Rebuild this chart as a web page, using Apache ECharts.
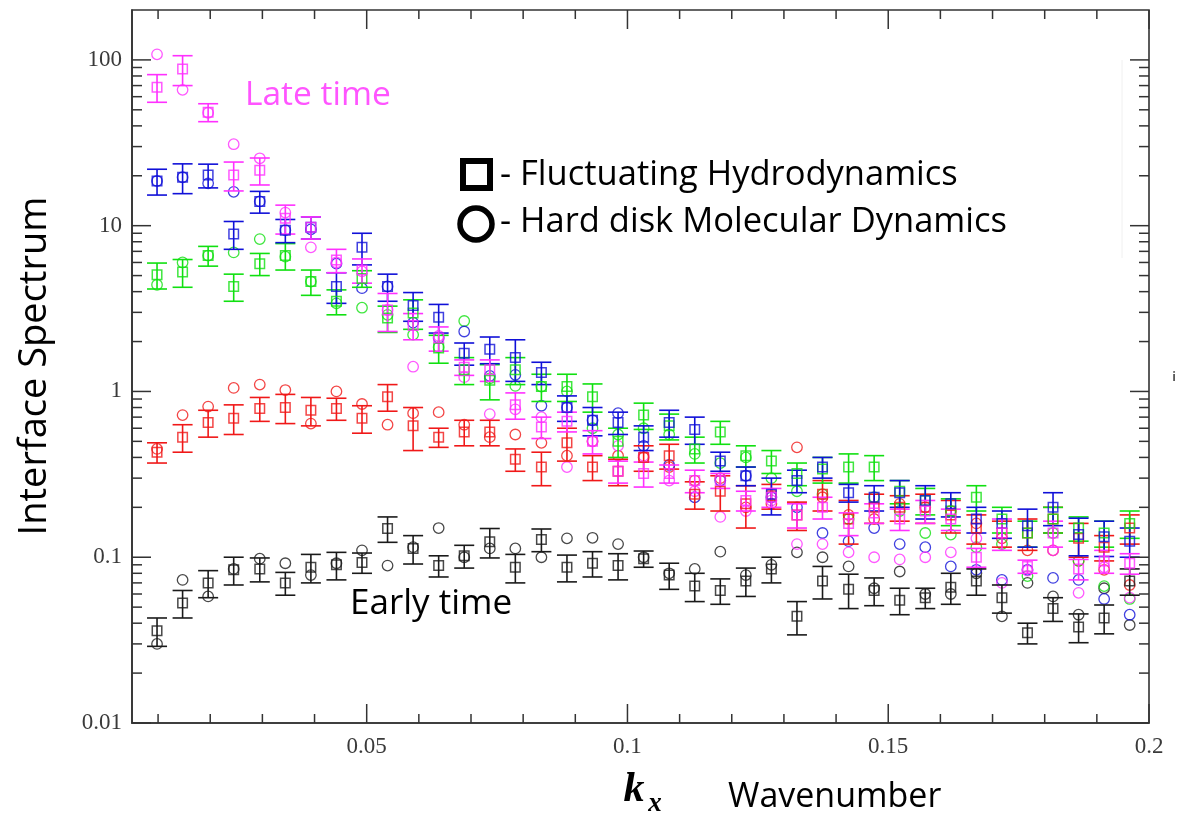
<!DOCTYPE html>
<html>
<head>
<meta charset="utf-8">
<script src="https://cdn.jsdelivr.net/npm/echarts@6/dist/echarts.min.js"></script>
<style>
  html, body { margin: 0; padding: 0; background: #fff; }
  #chart { width: 1186px; height: 814px; }
</style>
</head>
<body>
<div id="chart"></div>
<script>
// Wavenumbers k_x of the sampled interface modes
const kx = [0.0098, 0.0147, 0.0196, 0.0245, 0.0295, 0.0344, 0.0393, 0.0442, 0.0491, 0.0540,
            0.0589, 0.0638, 0.0687, 0.0736, 0.0785, 0.0835, 0.0884, 0.0933, 0.0982, 0.1031,
            0.1080, 0.1129, 0.1178, 0.1227, 0.1276, 0.1325, 0.1374, 0.1424, 0.1473, 0.1522,
            0.1571, 0.1620, 0.1669, 0.1718, 0.1767, 0.1816, 0.1865, 0.1914, 0.1963];

// Early time (black): fluctuating hydrodynamics (value, error) and hard-disk MD
const blackFH = [0.036, 0.053, 0.070, 0.084, 0.085, 0.070, 0.087, 0.090, 0.093, 0.149,
                 0.113, 0.089, 0.102, 0.124, 0.087, 0.128, 0.087, 0.092, 0.089, 0.098,
                 0.078, 0.067, 0.063, 0.072, 0.085, 0.044, 0.072, 0.064, 0.063, 0.055,
                 0.057, 0.066, 0.072, 0.057, 0.035, 0.049, 0.038, 0.043, 0.072];
const blackErr = [0.007, 0.010, 0.013, 0.016, 0.014, 0.011, 0.017, 0.017, 0.013, 0.026,
                  0.022, 0.013, 0.016, 0.025, 0.017, 0.020, 0.016, 0.016, 0.016, 0.011,
                  0.014, 0.013, 0.011, 0.014, 0.015, 0.010, 0.016, 0.015, 0.012, 0.010,
                  0.008, 0.014, 0.013, 0.011, 0.005, 0.008, 0.0075, 0.0085, 0.013];
const blackMD = [0.030, 0.073, 0.058, 0.085, 0.098, 0.092, 0.078, 0.092, 0.110, 0.089,
                 0.115, 0.150, 0.100, 0.113, 0.113, 0.100, 0.130, 0.131, 0.120, 0.100,
                 0.080, 0.085, 0.108, 0.078, 0.090, 0.107, 0.100, 0.088, 0.065, 0.082,
                 0.060, 0.060, 0.080, 0.044, 0.070, 0.058, 0.045, 0.065, 0.039];

// Red
const redFH = [0.43, 0.53, 0.65, 0.69, 0.79, 0.80, 0.77, 0.79, 0.69, 0.93,
               0.62, 0.53, 0.57, 0.57, 0.39, 0.35, 0.49, 0.35, 0.33, 0.40,
               0.41, 0.24, 0.25, 0.21, 0.235, 0.18, 0.24, 0.17, 0.20, 0.20,
               0.20, 0.18, 0.15, 0.14, 0.14, 0.17, 0.13, 0.115, 0.15];
const redErr = [0.06, 0.10, 0.12, 0.14, 0.13, 0.16, 0.15, 0.12, 0.13, 0.17,
                0.18, 0.07, 0.10, 0.10, 0.06, 0.08, 0.11, 0.06, 0.06, 0.07,
                0.07, 0.045, 0.06, 0.06, 0.04, 0.035, 0.05, 0.05, 0.04, 0.035,
                0.04, 0.04, 0.03, 0.025, 0.03, 0.03, 0.03, 0.02, 0.03];
const redMD = [0.45, 0.72, 0.81, 1.05, 1.10, 1.02, 0.64, 1.00, 0.84, 0.63,
               0.74, 0.75, 0.63, 0.53, 0.55, 0.49, 0.41, 0.50, 0.41, 0.40,
               0.35, 0.29, 0.30, 0.20, 0.21, 0.46, 0.23, 0.18, 0.17, 0.21,
               0.20, 0.19, 0.16, 0.13, 0.11, 0.11, 0.095, 0.084, 0.068];

// Green
const greenFH = [5.05, 5.25, 6.6, 4.3, 5.9, 6.6, 4.6, 3.5, 4.8, 2.77,
                 2.97, 1.83, 1.35, 1.17, 1.35, 1.07, 1.07, 0.93, 0.50, 0.72,
                 0.62, 0.45, 0.57, 0.41, 0.38, 0.32, 0.34, 0.35, 0.35, 0.25,
                 0.22, 0.19, 0.23, 0.17, 0.14, 0.17, 0.15, 0.14, 0.16];
const greenErr = [0.9, 1.0, 0.9, 0.8, 0.9, 1.2, 0.8, 0.6, 0.55, 0.5,
                  0.6, 0.35, 0.25, 0.28, 0.25, 0.2, 0.2, 0.18, 0.1, 0.13,
                  0.11, 0.08, 0.09, 0.06, 0.06, 0.05, 0.06, 0.07, 0.06, 0.04,
                  0.04, 0.035, 0.04, 0.03, 0.025, 0.03, 0.025, 0.025, 0.03];
const greenMD = [4.4, 6.0, 6.6, 6.9, 8.3, 6.5, 4.6, 3.4, 3.2, 2.9,
                 2.2, 1.85, 2.66, 1.2, 1.08, 1.07, 1.0, 0.6, 0.55, 0.6,
                 0.55, 0.42, 0.37, 0.4, 0.30, 0.25, 0.24, 0.17, 0.23, 0.19,
                 0.14, 0.137, 0.115, 0.12, 0.077, 0.14, 0.095, 0.067, 0.056];

// Blue
const blueFH = [18.6, 19.6, 20.2, 8.9, 14.0, 9.4, 9.8, 4.3, 7.4, 4.3,
                3.3, 2.8, 1.7, 1.8, 1.6, 1.3, 0.80, 0.67, 0.65, 0.53,
                0.65, 0.59, 0.38, 0.31, 0.24, 0.29, 0.35, 0.245, 0.23, 0.245,
                0.22, 0.21, 0.17, 0.16, 0.155, 0.20, 0.137, 0.133, 0.125];
const blueErr = [3.3, 4.0, 3.3, 1.7, 2.1, 1.5, 1.5, 0.9, 1.6, 0.8,
                 0.65, 0.55, 0.26, 0.33, 0.45, 0.2, 0.14, 0.13, 0.1, 0.09,
                 0.12, 0.11, 0.05, 0.04, 0.06, 0.045, 0.05, 0.03, 0.04, 0.045,
                 0.05, 0.035, 0.03, 0.03, 0.04, 0.045, 0.035, 0.032, 0.025];
const blueMD = [18.6, 19.6, 18.0, 16.0, 14.0, 9.4, 9.5, 5.9, 4.2, 4.3,
                2.6, 2.1, 2.3, 1.24, 1.26, 0.82, 0.80, 0.67, 0.74, 0.47,
                0.36, 0.23, 0.29, 0.31, 0.23, 0.20, 0.14, 0.125, 0.15, 0.12,
                0.115, 0.088, 0.084, 0.073, 0.084, 0.075, 0.073, 0.056, 0.045];

// Late time (magenta)
const magentaFH = [68.5, 88, 48.4, 20.2, 21.6, 11.1, 9.8, 6.2, 5.4, 3.1,
                   2.5, 2.1, 1.4, 1.35, 0.83, 0.61, 0.66, 0.50, 0.33, 0.32,
                   0.32, 0.29, 0.29, 0.22, 0.23, 0.18, 0.20, 0.16, 0.185, 0.17,
                   0.19, 0.17, 0.10, 0.14, 0.088, 0.14, 0.085, 0.095, 0.092];
const magentaErr = [13, 18, 6, 4, 4, 2.2, 1.5, 1.0, 0.9, 0.8,
                    0.45, 0.35, 0.15, 0.2, 0.15, 0.09, 0.09, 0.08, 0.05, 0.055,
                    0.04, 0.045, 0.03, 0.03, 0.03, 0.03, 0.03, 0.025, 0.025, 0.025,
                    0.03, 0.025, 0.013, 0.03, 0.008, 0.025, 0.012, 0.015, 0.013];
const magentaMD = [108, 66, 48, 31, 25.5, 12, 7.4, 6.0, 5.3, 3.1,
                   1.41, 2.16, 1.22, 0.73, 0.78, 0.70, 0.35, 0.50, 0.47, 0.41,
                   0.29, 0.25, 0.175, 0.19, 0.22, 0.12, 0.12, 0.107, 0.10, 0.097,
                   0.10, 0.107, 0.13, 0.07, 0.083, 0.11, 0.061, 0.087, 0.057];

// Axis ticks and labels
const xMajorTicks = [0.05, 0.1, 0.15, 0.2];
const xMinorTicks = [0.01, 0.02, 0.03, 0.04, 0.06, 0.07, 0.08, 0.09, 0.11, 0.12,
                     0.13, 0.14, 0.16, 0.17, 0.18, 0.19];
const yMajorTicks = [0.01, 0.1, 1, 10, 100];
const yMinorTicks = [0.02, 0.03, 0.04, 0.05, 0.06, 0.07, 0.08, 0.09,
                     0.2, 0.3, 0.4, 0.5, 0.6, 0.7, 0.8, 0.9,
                     2, 3, 4, 5, 6, 7, 8, 9,
                     20, 30, 40, 50, 60, 70, 80, 90];

const groups = [
  { fh: blackFH, err: blackErr, md: blackMD, color: '#1a1a1a' },
  { fh: redFH, err: redErr, md: redMD, color: '#f01818' },
  { fh: greenFH, err: greenErr, md: greenMD, color: '#10e010' },
  { fh: blueFH, err: blueErr, md: blueMD, color: '#1010d8' },
  { fh: magentaFH, err: magentaErr, md: magentaMD, color: '#ff30ff' }
];

const chart = echarts.init(document.getElementById('chart'));

const X_MIN = 0.005, X_MAX = 0.2, Y_MIN = 0.01, Y_MAX = 200;
const AXIS_COLOR = '#333';
const serif = 'Liberation Serif';
const sans = 'Open Sans';

function errorBarSeries(g) {
  const data = kx.map((x, i) => [x, g.fh[i] - g.err[i], g.fh[i] + g.err[i]]);
  return {
    type: 'custom', silent: true, z: 3,
    data,
    encode: { x: 0, y: [1, 2] },
    renderItem(params, api) {
      const x = api.value(0);
      const lo = api.coord([x, api.value(1)]);
      const hi = api.coord([x, api.value(2)]);
      const w = 10;
      const style = { stroke: g.color, lineWidth: 1.6, fill: null };
      return {
        type: 'group',
        children: [
          { type: 'line', shape: { x1: lo[0], y1: lo[1], x2: hi[0], y2: hi[1] }, style },
          { type: 'line', shape: { x1: lo[0] - w, y1: lo[1], x2: lo[0] + w, y2: lo[1] }, style },
          { type: 'line', shape: { x1: hi[0] - w, y1: hi[1], x2: hi[0] + w, y2: hi[1] }, style }
        ]
      };
    }
  };
}

// Frame ticks drawn as thin bar symbols anchored on an edge and shifted inward
function tickMarks(points, size, offset) {
  return {
    type: 'scatter', silent: true, z: 10, clip: false,
    symbol: 'rect', symbolSize: size, symbolOffset: offset,
    itemStyle: { color: AXIS_COLOR, opacity: 1 },
    data: points
  };
}
function xTicks(values, len) {
  return [
    tickMarks(values.map(v => [v, Y_MIN]), [1.5, len], [0, -len / 2]),
    tickMarks(values.map(v => [v, Y_MAX]), [1.5, len], [0, len / 2])
  ];
}
function yTicks(values, len) {
  return [
    tickMarks(values.map(v => [X_MIN, v]), [len, 1.5], [len / 2, 0]),
    tickMarks(values.map(v => [X_MAX, v]), [len, 1.5], [-len / 2, 0])
  ];
}

const series = [];
groups.forEach(g => {
  series.push({
    type: 'scatter', silent: true, z: 2,
    symbol: 'circle', symbolSize: 10.5,
    itemStyle: { color: 'rgba(0,0,0,0)', borderColor: g.color, borderWidth: 1.3, opacity: 0.8 },
    data: kx.map((x, i) => [x, g.md[i]])
  });
  series.push(errorBarSeries(g));
  series.push({
    type: 'scatter', silent: true, z: 4,
    symbol: 'rect', symbolSize: 9.5,
    itemStyle: { color: 'rgba(0,0,0,0)', borderColor: g.color, borderWidth: 1.5 },
    data: kx.map((x, i) => [x, g.fh[i]])
  });
});
series.push(...xTicks(xMajorTicks, 19));
series.push(...xTicks(xMinorTicks, 9));
series.push(...yTicks(yMajorTicks, 19));
series.push(...yTicks(yMinorTicks, 10));

// Annotations, axis titles and the marker key
const annotations = [
  { type: 'text', x: 35, y: 366, rotation: Math.PI / 2,
    style: { text: 'Interface Spectrum', font: `38px "${sans}"`, fill: '#000',
             align: 'center', verticalAlign: 'middle' } },
  { type: 'text', x: 634, y: 790,
    style: { text: 'k', font: `italic bold 42px "${serif}"`, fill: '#000',
             align: 'center', verticalAlign: 'middle' } },
  { type: 'text', x: 655, y: 804,
    style: { text: 'x', font: `italic bold 27px "${serif}"`, fill: '#000',
             align: 'center', verticalAlign: 'middle' } },
  { type: 'text', x: 728, y: 797,
    style: { text: 'Wavenumber', font: `34px "${sans}"`, fill: '#000',
             align: 'left', verticalAlign: 'middle' } },
  { type: 'text', x: 245, y: 95,
    style: { text: 'Late time', font: `33.5px "${sans}"`, fill: '#ff55ff',
             align: 'left', verticalAlign: 'middle' } },
  { type: 'text', x: 350, y: 604,
    style: { text: 'Early time', font: `35px "${sans}"`, fill: '#000',
             align: 'left', verticalAlign: 'middle' } },
  { type: 'rect', shape: { x: 463, y: 161, width: 27, height: 27 },
    style: { fill: null, stroke: '#000', lineWidth: 6 } },
  { type: 'circle', shape: { cx: 476, cy: 224, r: 16 },
    style: { fill: null, stroke: '#000', lineWidth: 5.5 } },
  { type: 'text', x: 500, y: 175,
    style: { text: '- Fluctuating Hydrodynamics', font: `34.5px "${sans}"`, fill: '#000',
             align: 'left', verticalAlign: 'middle' } },
  { type: 'text', x: 500, y: 222,
    style: { text: '- Hard disk Molecular Dynamics', font: `34.5px "${sans}"`, fill: '#000',
             align: 'left', verticalAlign: 'middle' } },
  { type: 'line', shape: { x1: 1122, y1: 60, x2: 1122, y2: 258 },
    style: { stroke: '#f0f0f0', lineWidth: 1 } },
  { type: 'text', x: 1174, y: 378,
    style: { text: 'i', font: `bold 12px "${sans}"`, fill: '#555',
             align: 'center', verticalAlign: 'middle' } }
];

const option = {
  backgroundColor: '#fff',
  animation: false,
  grid: { left: 132, right: 37, top: 10, bottom: 91,
          show: true, borderColor: AXIS_COLOR, borderWidth: 1.6, backgroundColor: 'transparent' },
  xAxis: {
    type: 'value', min: X_MIN, max: X_MAX,
    axisLine: { show: true, onZero: false, lineStyle: { color: AXIS_COLOR, width: 1.6 } },
    axisTick: { show: false },
    axisLabel: {
      show: true, customValues: xMajorTicks, margin: 12,
      fontFamily: serif, fontSize: 23, color: '#3a3a3a',
      formatter: v => String(+v.toFixed(2))
    },
    splitLine: { show: false }
  },
  yAxis: {
    type: 'log', min: Y_MIN, max: Y_MAX,
    axisLine: { show: true, onZero: false, lineStyle: { color: AXIS_COLOR, width: 1.6 } },
    axisTick: { show: false },
    axisLabel: {
      show: true, customValues: yMajorTicks, margin: 10,
      fontFamily: serif, fontSize: 23, color: '#3a3a3a',
      formatter: v => (v >= 1 ? String(Math.round(v)) : String(+v.toPrecision(1)))
    },
    splitLine: { show: false }
  },
  series,
  graphic: annotations
};

chart.setOption(option);
</script>
</body>
</html>
